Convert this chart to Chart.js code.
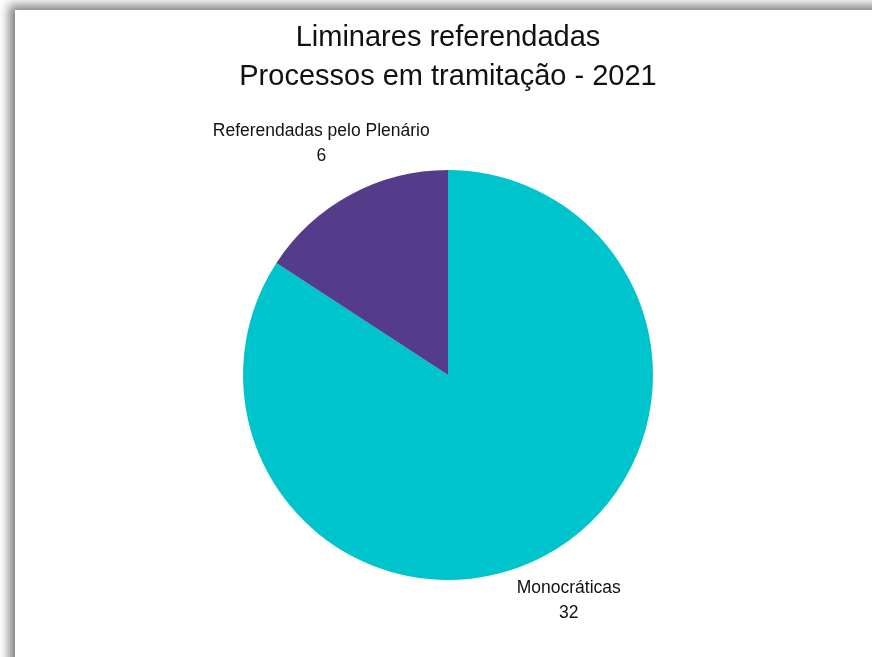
<!DOCTYPE html>
<html>
<head>
<meta charset="utf-8">
<title>Liminares referendadas</title>
<script src="https://cdn.jsdelivr.net/npm/chart.js@4/dist/chart.umd.min.js"></script>
<style>
  html, body { margin: 0; padding: 0; background: #fff; overflow: hidden; }
  #frame {
    position: absolute;
    left: 15px;
    top: 10px;
    width: 900px;
    height: 700px;
    background: #fff;
    box-shadow: -6px -5px 10px rgba(0, 0, 0, 0.5);
  }
  #wrap { position: absolute; left: 0; top: 0; width: 857px; height: 647px; }
</style>
</head>
<body>
<div id="frame">
  <div id="wrap"><canvas id="pieChart"></canvas></div>
</div>
<script>
// Liminares em processos em tramitação, 2021
const categories = ['Monocráticas', 'Referendadas pelo Plenário'];
const counts = [32, 6];
const sliceColors = ['#00C4CC', '#553C8A'];
const titleLines = ['Liminares referendadas', 'Processos em tramitação - 2021'];

const FONT = "'Liberation Sans', Arial, sans-serif";

// Draws "name / value" outside each slice, along the slice's middle angle
const outsideLabels = {
    id: 'outsideLabels',
    afterDatasetsDraw(chart) {
        const ctx = chart.ctx;
        const meta = chart.getDatasetMeta(0);
        ctx.save();
        ctx.font = '17.5px ' + FONT;
        ctx.fillStyle = '#111';
        ctx.textAlign = 'center';
        ctx.textBaseline = 'middle';
        meta.data.forEach((arc, i) => {
            const p = arc.getProps(['x', 'y', 'startAngle', 'endAngle', 'outerRadius'], true);
            const mid = (p.startAngle + p.endAngle) / 2;
            const r = p.outerRadius + 55;
            const x = p.x + Math.cos(mid) * r - 3;
            const y = p.y + Math.sin(mid) * r - 3;
            ctx.fillText(categories[i], x, y - 12.5);
            ctx.fillText(String(counts[i]), x, y + 12.5);
        });
        ctx.restore();
    }
};

new Chart(document.getElementById('pieChart'), {
    type: 'pie',
    data: {
        labels: categories,
        datasets: [{
            data: counts,
            backgroundColor: sliceColors,
            borderWidth: 0
        }]
    },
    options: {
        responsive: true,
        maintainAspectRatio: false,
        animation: false,
        layout: { padding: { top: 0, bottom: 77, left: 9, right: 0 } },
        plugins: {
            legend: { display: false },
            tooltip: { enabled: false },
            title: {
                display: true,
                text: titleLines,
                color: '#111',
                font: { family: FONT, size: 29, weight: 'normal', lineHeight: 1.33 },
                padding: { top: 9, bottom: 73.9 }
            }
        }
    },
    plugins: [outsideLabels]
});
</script>
</body>
</html>
